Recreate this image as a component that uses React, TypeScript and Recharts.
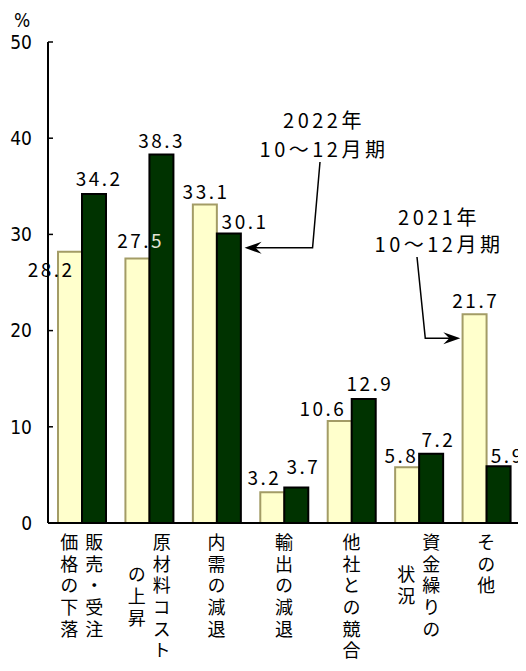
import { Bar, BarChart, LabelList, XAxis, YAxis } from "recharts";

const categories = ["販売・受注価格の下落", "原材料コストの上昇", "内需の減退", "輸出の減退", "他社との競合", "資金繰りの状況", "その他"];
const labelColumns = [
  ["販売・受注", "価格の下落"],
  ["原材料コスト", "の上昇"],
  ["内需の減退"],
  ["輸出の減退"],
  ["他社との競合"],
  ["資金繰りの", "状況"],
  ["その他"],
];
const y2021 = [28.2, 27.5, 33.1, 3.2, 10.6, 5.8, 21.7];
const y2022 = [34.2, 38.3, 30.1, 3.7, 12.9, 7.2, 5.9];
const yTicks = [0, 10, 20, 30, 40, 50];
const note2022 = ["2022年", "10〜12月期"];
const note2021 = ["2021年", "10〜12月期"];

const data = categories.map((cat, i) => ({ cat, y2021: y2021[i], y2022: y2022[i] }));

// layout
const W = 518;
const H = 663;
const PLOT_L = 40;
const PLOT_T = 34;
const PLOT_W = 472;
const PLOT_H = 481;
const BAR = 24;
const JP = "'Noto Sans CJK JP', sans-serif";

const band = PLOT_W / categories.length;
const barX = (i: number, s: number) => PLOT_L + band * i + (band - 2 * BAR) / 2 + s * BAR;
const yPx = (v: number) => PLOT_T + PLOT_H * (1 - v / 50);

// hand nudges for value labels that sit off their bar in the original
const nudge: Record<string, [number, number]> = {
  "y2021-0": [-20, 32],
  "y2021-1": [2, -3],
  "y2021-2": [0, 1],
  "y2021-3": [-9, 0],
  "y2021-4": [-18, 2],
  "y2021-5": [-7, 3],
  "y2021-6": [0, 1],
  "y2022-0": [4, -1],
  "y2022-1": [-1, 0],
  "y2022-2": [15, 3],
  "y2022-3": [6, -6],
  "y2022-4": [5, -1],
  "y2022-5": [6, 0],
  "y2022-6": [8, 4],
};

const valueLabel = (key: string) => (props: any) => {
  const { x, y, width, value, index } = props;
  const [dx, dy] = nudge[`${key}-${index}`] ?? [0, 0];
  const s = String(value);
  const cx = Number(x) + Number(width) / 2 + dx + 1.2;
  const by = Number(y) - 7 + dy;
  if (key === "y2021" && index === 1) {
    return (
      <text x={cx} y={by} textAnchor="middle" fontSize={19} letterSpacing={2.5} fontFamily={JP}>
        <tspan fill="#000">{s.slice(0, 3)}</tspan>
        <tspan fill="#e4e4d4">{s.slice(3)}</tspan>
      </text>
    );
  }
  return (
    <text x={cx} y={by} textAnchor="middle" fontSize={19} letterSpacing={2.5} fontFamily={JP} fill="#000">
      {s}
    </text>
  );
};

const CategoryTick = (props: any) => {
  const { x, payload } = props;
  const cols = labelColumns[categories.indexOf(payload.value)] ?? [];
  const pitch = 21.7;
  const top = PLOT_T + PLOT_H + 10;
  const mid = top + (Math.max(...cols.map((c) => c.length)) * pitch) / 2;
  return (
    <g>
      {cols.map((c, k) => {
        const cx = cols.length === 1 ? x : x + 12.5 - k * 25;
        return (
          <text
            key={c}
            x={cx}
            y={mid}
            textAnchor="middle"
            fontSize={18}
            letterSpacing={3.7}
            fontFamily={JP}
            fill="#000"
            style={{ writingMode: "vertical-rl" }}
          >
            {c}
          </text>
        );
      })}
    </g>
  );
};

function Arrowhead({ x, y, dir }: { x: number; y: number; dir: 1 | -1 }) {
  return (
    <path
      d={`M${x},${y} L${x - dir * 17},${y - 6} L${x - dir * 11},${y} L${x - dir * 17},${y + 6} Z`}
      fill="#000"
    />
  );
}

export default function App() {
  const tip22 = { x: barX(2, 1) + BAR + 4, y: yPx(28.6) };
  const tip21 = { x: barX(6, 0) - 2, y: yPx(19.2) };
  return (
    <div style={{ position: "relative", width: W, height: H }}>
      <BarChart
        width={W}
        height={H}
        data={data}
        margin={{ top: PLOT_T, right: W - PLOT_L - PLOT_W, left: 0, bottom: 0 }}
        barGap={0}
        barSize={BAR}
      >
        <XAxis
          dataKey="cat"
          height={H - PLOT_T - PLOT_H}
          interval={0}
          axisLine={{ stroke: "#000", strokeWidth: 2 }}
          tickLine={false}
          tick={<CategoryTick />}
        />
        <YAxis
          width={PLOT_L}
          domain={[0, 50]}
          ticks={yTicks}
          interval={0}
          axisLine={{ stroke: "#000", strokeWidth: 2 }}
          tickLine={{ stroke: "#000", strokeWidth: 1.5 }}
          tickSize={-5}
          tickMargin={21}
          tick={{ fontSize: 19, fill: "#000", fontFamily: "'DejaVu Sans Condensed', 'DejaVu Sans', sans-serif" }}
        />
        <Bar dataKey="y2021" fill="#ffffcc" stroke="#a39c66" strokeWidth={2} isAnimationActive={false}>
          <LabelList dataKey="y2021" content={valueLabel("y2021")} />
        </Bar>
        <Bar dataKey="y2022" fill="#003300" stroke="#000" strokeWidth={2} isAnimationActive={false}>
          <LabelList dataKey="y2022" content={valueLabel("y2022")} />
        </Bar>
      </BarChart>
      <svg width={W} height={H} style={{ position: "absolute", left: 0, top: 0, pointerEvents: "none" }}>
        <text x={14} y={19} textAnchor="middle" fontSize={19} fontFamily="'DejaVu Sans Condensed', 'DejaVu Sans', sans-serif">
          %
        </text>
        <g fontFamily={JP} fontSize={20} letterSpacing={3.5} textAnchor="middle" fill="#000">
          <text x={316} y={120}>{note2022[0]}</text>
          <text x={316} y={149}>{note2022[1]}</text>
          <text x={431} y={217}>{note2021[0]}</text>
          <text x={431} y={244}>{note2021[1]}</text>
        </g>
        <polyline
          points={`312,154 ${tip22.x + 68},${tip22.y} ${tip22.x + 8},${tip22.y}`}
          fill="none"
          stroke="#000"
          strokeWidth={1.5}
        />
        <Arrowhead x={tip22.x} y={tip22.y} dir={-1} />
        <polyline
          points={`409,249 ${tip21.x - 35},${tip21.y} ${tip21.x - 8},${tip21.y}`}
          fill="none"
          stroke="#000"
          strokeWidth={1.5}
        />
        <Arrowhead x={tip21.x} y={tip21.y} dir={1} />
      </svg>
    </div>
  );
}
